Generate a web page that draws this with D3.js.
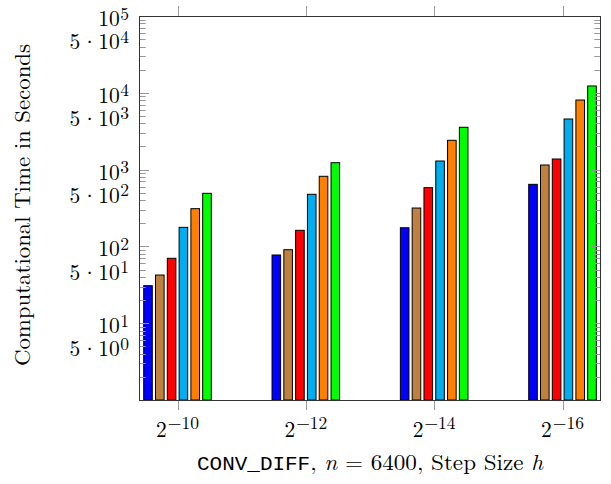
<!DOCTYPE html>
<html><head><meta charset="utf-8">
<script src="https://cdn.jsdelivr.net/npm/d3@7"></script>
<style>
body{margin:0;background:#fff;}
text{font-family:"Latin Modern Roman","CMU Serif","Liberation Serif",serif;fill:#000;}
.tt{font-family:"Liberation Mono","DejaVu Sans Mono",monospace;}
</style></head>
<body>
<svg id="c" width="611" height="484"></svg>
<script>
const categories = ["-10", "-12", "-14", "-16"];
const seriesColors = ["#0000ff", "#bf8040", "#ff0000", "#00aeef", "#ff8000", "#00ff00"];
const series1 = [30.8, 77.3, 175, 643];
const series2 = [42.4, 90.6, 316, 1148];
const series3 = [70, 162, 582, 1374];
const series4 = [177, 477, 1294, 4560];
const series5 = [310, 818, 2407, 8054];
const series6 = [491, 1230, 3557, 12270];
const seriesList = [series1, series2, series3, series4, series5, series6];
const yTickMantissa = ["", "5", "", "5", "", "5", "", "5", "", "5"];
const yTickExp = ["5", "4", "4", "3", "3", "2", "2", "1", "1", "0"];
const yTickValues = [1e5, 5e4, 1e4, 5e3, 1e3, 5e2, 1e2, 5e1, 1e1, 5e0];

const L = 139, R = 601, T = 16, B = 400;
const svg = d3.select("#c");
const x = d3.scaleLinear().domain([-0.3, 3.3]).range([L, R]);
const y = d3.scaleLog().domain([1, 1e5]).range([B, T]);
const pitch = 11.8, bw = 8.6;
const fs = 21.5, sfs = 17.5;

// bars
seriesList.forEach((s, i) => {
  svg.append("g").selectAll("rect").data(s).join("rect")
    .attr("x", (d, j) => x(j) + (i - 2.5) * pitch - bw / 2)
    .attr("y", d => y(d))
    .attr("width", bw)
    .attr("height", d => B - y(d))
    .attr("fill", seriesColors[i])
    .attr("stroke", "#000").attr("stroke-width", 1);
});

// minor & major y ticks
const minor = [];
for (let e = 0; e < 5; e++) for (let m = 2; m <= 9; m++) minor.push(m * Math.pow(10, e));
const major = [1, 10, 100, 1e3, 1e4, 1e5];
const tg = svg.append("g").attr("stroke", "#999").attr("stroke-width", 1);
minor.forEach(v => {
  const yy = Math.round(y(v)) + 0.5;
  tg.append("line").attr("x1", L).attr("x2", L + 6.7).attr("y1", yy).attr("y2", yy);
  tg.append("line").attr("x1", R).attr("x2", R - 6.7).attr("y1", yy).attr("y2", yy);
});
major.forEach(v => {
  const yy = Math.round(y(v)) + 0.5;
  tg.append("line").attr("x1", L).attr("x2", L + 10).attr("y1", yy).attr("y2", yy);
  tg.append("line").attr("x1", R).attr("x2", R - 10).attr("y1", yy).attr("y2", yy);
});
categories.forEach((c, j) => {
  const xx = Math.round(x(j)) + 0.5;
  tg.append("line").attr("x1", xx).attr("x2", xx).attr("y1", B).attr("y2", B + 10);
  tg.append("line").attr("x1", xx).attr("x2", xx).attr("y1", T).attr("y2", T - 10);
});

// frame
svg.append("rect").attr("x", L + 0.5).attr("y", T + 0.5).attr("width", R - L - 1).attr("height", B - T)
  .attr("fill", "none").attr("stroke", "#333").attr("stroke-width", 1);

// y tick labels, laid out right to left
yTickValues.forEach((v, k) => {
  const g = svg.append("g");
  const base = y(v) + 10;
  let xr = 129;
  const ex = g.append("text").attr("x", xr).attr("y", base - 6.5).attr("text-anchor", "end")
    .attr("font-size", sfs).text(yTickExp[k]);
  xr -= ex.node().getComputedTextLength() + 0.5;
  const ten = g.append("text").attr("x", xr).attr("y", base).attr("text-anchor", "end")
    .attr("font-size", fs).text("10");
  xr -= ten.node().getComputedTextLength();
  if (yTickMantissa[k]) {
    g.append("text").attr("x", xr - 8.5).attr("y", base).attr("text-anchor", "middle")
      .attr("font-size", fs).text("\u00B7");
    g.append("text").attr("x", xr - 18).attr("y", base).attr("text-anchor", "end")
      .attr("font-size", fs).text(yTickMantissa[k]);
  }
});

// x tick labels
categories.forEach((c, j) => {
  const g = svg.append("g");
  const two = g.append("text").attr("y", 436.7).attr("font-size", fs).text("2");
  const sup = g.append("text").attr("y", 436.7 - 7.5).attr("font-size", sfs).text(c.replace("-", "\u2212"));
  const w1 = two.node().getComputedTextLength(), w2 = sup.node().getComputedTextLength();
  const x0 = x(j) - (w1 + w2 + 1) / 2;
  two.attr("x", x0);
  sup.attr("x", x0 + w1 + 1);
});

// x axis title
const xt = svg.append("text").attr("x", 370).attr("y", 470).attr("text-anchor", "middle").attr("font-size", fs)
  .attr("textLength", 346).attr("lengthAdjust", "spacingAndGlyphs");
xt.append("tspan").attr("class", "tt").attr("font-size", 19.5).text("CONV_DIFF");
xt.append("tspan").text(", ");
xt.append("tspan").attr("font-style", "italic").text("n");
xt.append("tspan").text(" = 6400, Step Size ");
xt.append("tspan").attr("font-style", "italic").text("h");

// y axis title
svg.append("text").attr("transform", "translate(30,205) rotate(-90)")
  .attr("text-anchor", "middle").attr("font-size", fs)
  .attr("textLength", 322).attr("lengthAdjust", "spacingAndGlyphs")
  .text("Computational Time in Seconds");
</script>
</body></html>
